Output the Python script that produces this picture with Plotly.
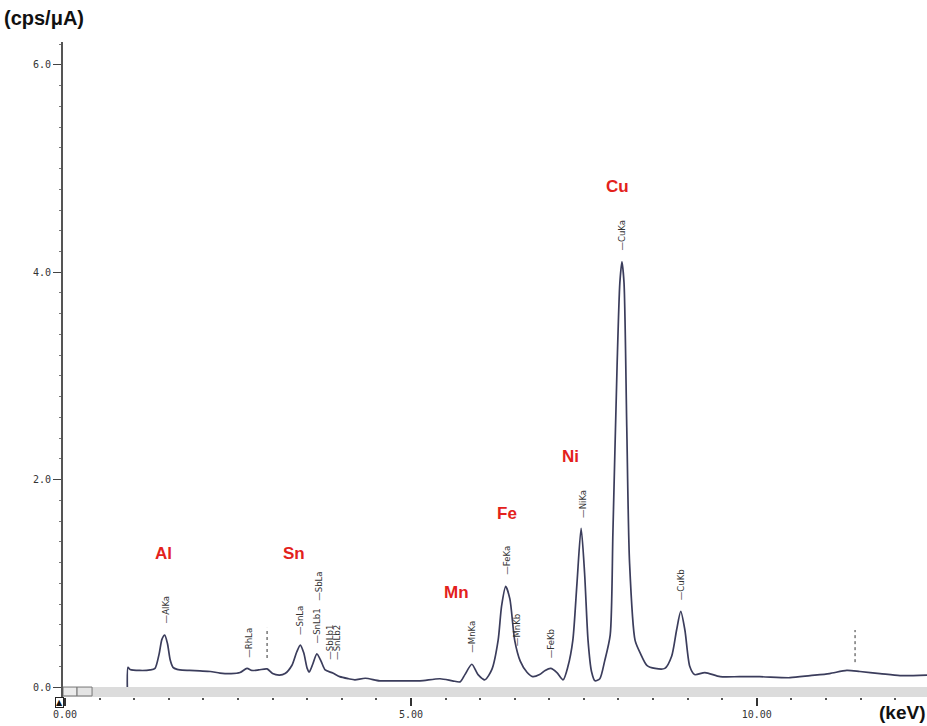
import plotly.graph_objects as go

# ---- spectrum data (keV, cps/uA) ----
energy_kev = [0.90, 0.91, 0.94, 1.08, 1.23, 1.30, 1.36, 1.40, 1.44, 1.48, 1.52, 1.56, 1.62, 1.66,
              1.80, 1.95, 2.10, 2.24, 2.40, 2.53, 2.63, 2.70, 2.80, 2.92, 3.00, 3.10, 3.18, 3.28,
              3.35, 3.40, 3.45, 3.50, 3.53, 3.58, 3.64, 3.70, 3.76, 3.87, 3.97, 4.10, 4.19, 4.34,
              4.55, 4.84, 5.13, 5.42, 5.60, 5.71, 5.78, 5.88, 5.97, 6.07, 6.17, 6.26, 6.31, 6.37,
              6.43, 6.50, 6.58, 6.68, 6.76, 6.86, 6.94, 7.02, 7.11, 7.20, 7.27, 7.34, 7.40, 7.46,
              7.51, 7.56, 7.61, 7.66, 7.73, 7.80, 7.88, 7.92, 7.98, 8.02, 8.05, 8.08, 8.12, 8.16,
              8.24, 8.32, 8.41, 8.53, 8.67, 8.77, 8.84, 8.90, 8.96, 9.03, 9.10, 9.25, 9.47, 9.75,
              10.04, 10.48, 10.77, 11.05, 11.30, 11.49, 11.78, 12.07, 12.46]
intensity = [0.00, 0.19, 0.17, 0.16, 0.165, 0.18, 0.32, 0.46, 0.50, 0.42, 0.26, 0.19, 0.17, 0.165,
             0.16, 0.155, 0.15, 0.135, 0.13, 0.14, 0.18, 0.16, 0.165, 0.175, 0.13, 0.115, 0.13, 0.21,
             0.34, 0.405, 0.33, 0.18, 0.145, 0.22, 0.32, 0.25, 0.165, 0.135, 0.10, 0.08, 0.07, 0.085,
             0.06, 0.06, 0.06, 0.08, 0.06, 0.05, 0.12, 0.22, 0.12, 0.07, 0.17, 0.45, 0.78, 0.97,
             0.85, 0.45, 0.25, 0.14, 0.10, 0.12, 0.16, 0.18, 0.14, 0.07, 0.20, 0.45, 1.00, 1.53,
             1.10, 0.45, 0.15, 0.06, 0.08, 0.25, 0.50, 1.50, 3.10, 3.90, 4.10, 3.90, 2.50, 1.20,
             0.45, 0.32, 0.21, 0.18, 0.18, 0.30, 0.55, 0.73, 0.55, 0.20, 0.12, 0.14, 0.10, 0.10,
             0.10, 0.09, 0.11, 0.13, 0.16, 0.15, 0.13, 0.11, 0.115]

# element names (red) and their label positions
elements = ["Al", "Sn", "Mn", "Fe", "Ni", "Cu"]
element_kev = [1.42, 3.31, 5.66, 6.39, 7.31, 7.99]
element_y = [1.29, 1.29, 0.91, 1.67, 2.22, 4.83]

# line markers
line_names = ["AlKa", "RhLa", "SnLa", "SnLb1", "SbLa", "SbLb1", "SnLb2",
              "MnKa", "FeKa", "MnKb", "FeKb", "NiKa", "CuKa", "CuKb"]
line_kev = [1.445, 2.64, 3.40, 3.64, 3.66, 3.83, 3.92,
            5.88, 6.39, 6.52, 7.02, 7.47, 8.03, 8.90]
line_label_y = [0.59, 0.26, 0.48, 0.405, 0.81, 0.24, 0.24,
                0.31, 1.06, 0.376, 0.26, 1.61, 4.19, 0.82]
dashed_kev = [2.92, 11.42]
dashed_y0 = [0.28, 0.24]
dashed_y1 = [0.57, 0.55]

y_tickvals = [0, 2, 4, 6]
y_ticktext = ["0.0", "2.0", "4.0", "6.0"]
x_tickvals = [0, 5, 10]
x_ticktext = ["0.00", "5.00", "10.00"]

X_RANGE = [-0.03, 12.46]
Y_RANGE = [-0.096, 6.22]

fig = go.Figure()
fig.add_trace(go.Scatter(x=energy_kev, y=intensity, mode="lines",
                         line=dict(color="#3b3d5c", width=1.7, shape="spline", smoothing=0.7),
                         hoverinfo="skip", showlegend=False))

shapes = []
# gray band along the bottom
shapes.append(dict(type="rect", xref="paper", yref="y", x0=0, x1=1, y0=Y_RANGE[0], y1=0,
                   fillcolor="#dcdcdc", line=dict(width=0), layer="below"))
shapes.append(dict(type="rect", xref="x", yref="y", x0=-0.03, x1=0.173, y0=Y_RANGE[0] + 0.01, y1=0,
                   fillcolor="#ececec", line=dict(color="#777", width=1)))
shapes.append(dict(type="rect", xref="x", yref="y", x0=0.173, x1=0.39, y0=Y_RANGE[0] + 0.01, y1=0,
                   fillcolor="#e4e4e4", line=dict(color="#777", width=1)))
for k, a, b in zip(dashed_kev, dashed_y0, dashed_y1):
    shapes.append(dict(type="line", xref="x", yref="y", x0=k, x1=k, y0=a, y1=b,
                       line=dict(color="#333", width=1, dash="dot")))

annotations = []
for name, k, yy in zip(elements, element_kev, element_y):
    annotations.append(dict(x=k, y=yy, xref="x", yref="y", text="<b>" + name + "</b>", showarrow=False,
                            font=dict(family="Liberation Sans", size=17, color="#e3211c"),
                            xanchor="center", yanchor="middle"))
for name, k, yy in zip(line_names, line_kev, line_label_y):
    annotations.append(dict(x=k, y=yy, xref="x", yref="y", text="—" + name, showarrow=False,
                            textangle=-90, font=dict(family="DejaVu Sans Condensed", size=9.5, color="#333"),
                            xanchor="center", yanchor="bottom"))
annotations.append(dict(x=-0.0706, y=1.0366, xref="paper", yref="paper", text="<b>(cps/μA)</b>",
                        showarrow=False, xanchor="left", yanchor="middle",
                        font=dict(family="Liberation Sans", size=20, color="#111")))
annotations.append(dict(x=1.0, y=-0.023, xref="paper", yref="paper", text="<b>(keV)</b>",
                        showarrow=False, xanchor="right", yanchor="middle",
                        font=dict(family="Liberation Sans", size=19, color="#111")))
annotations.append(dict(x=-0.004, y=0, xref="paper", yref="paper", text="▲",
                        showarrow=False, xanchor="center", yanchor="top",
                        bordercolor="#222", borderwidth=1, borderpad=0, bgcolor="white",
                        font=dict(family="DejaVu Sans", size=8, color="#111")))

fig.update_layout(
    width=927, height=726,
    margin=dict(l=63, r=0, t=42, b=29),
    paper_bgcolor="white", plot_bgcolor="white",
    shapes=shapes, annotations=annotations,
    xaxis=dict(range=X_RANGE, showgrid=False, zeroline=False, showline=False,
               tickvals=x_tickvals, ticktext=x_ticktext, ticks="outside", ticklen=8,
               tickcolor="#333", tickwidth=1.5,
               tickfont=dict(family="DejaVu Sans Mono", size=10, color="#333"),
               minor=dict(dtick=0.5, tick0=0, ticks="outside", ticklen=2, tickcolor="#555")),
    yaxis=dict(range=Y_RANGE, showgrid=False, zeroline=False, showline=True,
               linecolor="#555", linewidth=2,
               tickvals=y_tickvals, ticktext=y_ticktext, ticks="outside", ticklen=8,
               tickcolor="#444", tickwidth=1,
               tickfont=dict(family="DejaVu Sans Mono", size=10, color="#333"),
               minor=dict(dtick=0.2, tick0=0, ticks="outside", ticklen=2, tickcolor="#777")),
)

fig.write_html("out.html")
